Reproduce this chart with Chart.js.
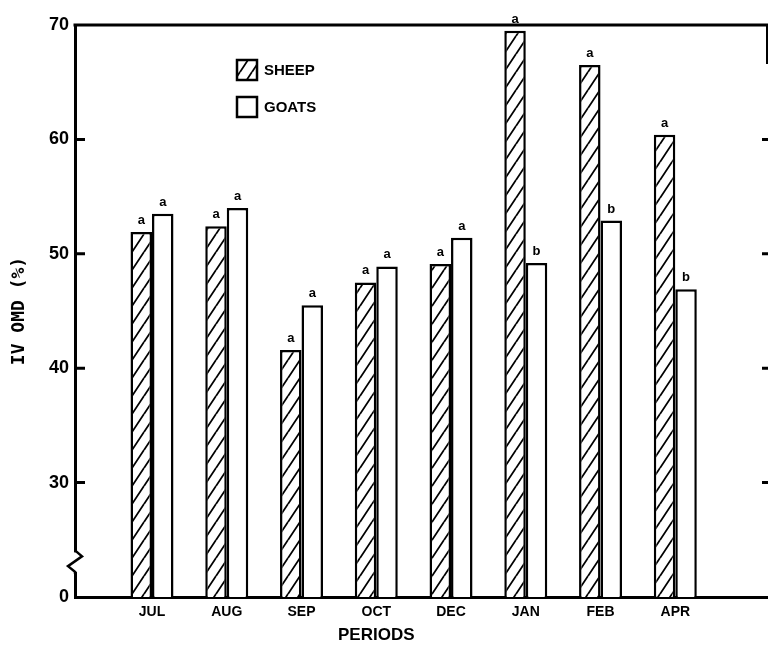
<!DOCTYPE html>
<html><head><meta charset="utf-8">
<script src="https://cdn.jsdelivr.net/npm/chart.js@4.4.1/dist/chart.umd.min.js"></script>
<style>html,body{margin:0;padding:0;background:#fff}#wrap{width:768px;height:648px;position:relative}</style>
</head><body><div id="wrap"><canvas id="c"></canvas></div>
<script>
// ---- data ----
const periods = ['JUL','AUG','SEP','OCT','DEC','JAN','FEB','APR'];
const sheep = [51.9, 52.4, 41.6, 47.5, 49.1, 69.5, 66.5, 60.4];
const goats = [53.5, 54.0, 45.5, 48.9, 51.4, 49.2, 52.9, 46.9];
const sheepLetters = ['a','a','a','a','a','a','a','a'];
const goatsLetters = ['a','a','a','a','a','b','b','b'];
const seriesNames = ['SHEEP','GOATS'];
const yTickValues = [20, 30, 40, 50, 60, 70];
const yTickLabels = ['0', '30', '40', '50', '60', '70'];
const xTitle = 'PERIODS';
const yTitle = 'IV OMD (%)';

// ---- hatch pattern ----
function hatch() {
  const w = 12, h = 18;
  const c = document.createElement('canvas');
  c.width = w; c.height = h;
  const g = c.getContext('2d');
  g.fillStyle = '#fff'; g.fillRect(0, 0, w, h);
  g.strokeStyle = '#000'; g.lineWidth = 1.8;
  for (let k = 0; k <= 2; k++) {
    g.beginPath();
    g.moveTo((k - 1) * w, h);
    g.lineTo(k * w, 0);
    g.moveTo((k - 1) * w, 2 * h);
    g.lineTo(k * w, h);
    g.stroke();
  }
  return document.getElementById('c').getContext('2d').createPattern(c, 'repeat');
}
const hatchFill = hatch();

const toPoints = arr => arr.map((v, i) => ({ x: i + 1, y: v }));

const BOLD = "'Liberation Sans', Arial, sans-serif";

const decor = {
  id: 'decor',
  afterDraw(chart) {
    const ctx = chart.ctx;
    const a = chart.chartArea;
    const ys = chart.scales.y, xs = chart.scales.x;
    ctx.save();
    ctx.strokeStyle = '#000';
    ctx.fillStyle = '#000';
    // top frame line
    ctx.lineWidth = 3;
    ctx.beginPath();
    ctx.moveTo(a.left - 1.5, a.top);
    ctx.lineTo(chart.width, a.top);
    ctx.stroke();
    // right partial frame
    ctx.lineWidth = 2;
    ctx.beginPath();
    ctx.moveTo(chart.width - 1, a.top);
    ctx.lineTo(chart.width - 1, ys.getPixelForValue(66.6));
    ctx.stroke();
    // inner tick marks
    ctx.lineWidth = 3;
    yTickValues.slice(1, -1).forEach(v => {
      const y = ys.getPixelForValue(v);
      ctx.beginPath();
      ctx.moveTo(a.left, y); ctx.lineTo(a.left + 10, y);
      ctx.moveTo(chart.width - 6, y); ctx.lineTo(chart.width, y);
      ctx.stroke();
    });
    // axis break
    const yb1 = ys.getPixelForValue(23.9), yb2 = ys.getPixelForValue(22.2);
    ctx.fillStyle = '#fff';
    ctx.fillRect(a.left - 3, yb1, 6, yb2 - yb1);
    ctx.beginPath();
    ctx.moveTo(a.left, yb1 - 2);
    ctx.lineTo(a.left + 7, yb1 + 4);
    ctx.lineTo(a.left - 7, (yb1 + yb2) / 2 + 4);
    ctx.lineTo(a.left, yb2);
    ctx.lineTo(a.left, yb2 + 2);
    ctx.lineWidth = 2.5;
    ctx.stroke();
    ctx.fillStyle = '#000';
    // significance letters
    ctx.font = 'bold 13px ' + BOLD;
    ctx.textAlign = 'center';
    ctx.textBaseline = 'bottom';
    [sheepLetters, goatsLetters].forEach((letters, di) => {
      const meta = chart.getDatasetMeta(di);
      meta.data.forEach((bar, i) => {
        ctx.fillText(letters[i], bar.x, bar.y - 5);
      });
    });
    // x title
    ctx.font = 'bold 17px ' + BOLD;
    ctx.textBaseline = 'middle';
    ctx.fillText(xTitle, xs.getPixelForValue(4), 635);
    // legend
    const lx = 237, ly = [60, 97], bs = 20;
    ctx.textAlign = 'left';
    ctx.font = 'bold 15px ' + BOLD;
    seriesNames.forEach((name, i) => {
      ctx.fillStyle = i === 0 ? hatchFill : '#fff';
      ctx.fillRect(lx, ly[i], bs, bs);
      ctx.lineWidth = 2.5;
      ctx.strokeStyle = '#000';
      ctx.strokeRect(lx, ly[i], bs, bs);
      ctx.fillStyle = '#000';
      ctx.fillText(name, lx + bs + 7, ly[i] + bs / 2 + 1);
    });
    ctx.restore();
  }
};

new Chart(document.getElementById('c'), {
  type: 'bar',
  data: {
    datasets: [
      { label: seriesNames[0], data: toPoints(sheep), backgroundColor: hatchFill,
        borderColor: '#000', borderWidth: 2.5 },
      { label: seriesNames[1], data: toPoints(goats), backgroundColor: '#fff',
        borderColor: '#000', borderWidth: 2.5 }
    ]
  },
  options: {
    animation: false,
    responsive: true,
    maintainAspectRatio: false,
    devicePixelRatio: 1,
    layout: { padding: { top: 25, right: 0, left: 0, bottom: 0 } },
    datasets: { bar: { categoryPercentage: 0.575, barPercentage: 1.0 } },
    plugins: { legend: { display: false }, tooltip: { enabled: false } },
    scales: {
      x: {
        type: 'linear',
        min: -0.03, max: 9.24,
        offset: false,
        grid: { display: false, drawTicks: false },
        border: { display: true, color: '#000', width: 3 },
        afterBuildTicks: s => { s.ticks = periods.map((p, i) => ({ value: i + 1 })); },
        afterFit: s => { s.height = 51; },
        ticks: {
          autoSkip: false, maxRotation: 0, padding: 7, color: '#000',
          font: { family: BOLD, weight: 'bold', size: 14 },
          callback: v => periods[Math.round(v) - 1]
        }
      },
      y: {
        min: 20, max: 70,
        grid: { display: false, drawTicks: false },
        border: { display: true, color: '#000', width: 3 },
        afterBuildTicks: s => { s.ticks = yTickValues.map(v => ({ value: v })); },
        afterFit: s => { s.width = 75; },
        ticks: {
          padding: 6, color: '#000',
          font: { family: BOLD, weight: 'bold', size: 18 },
          callback: v => yTickLabels[yTickValues.indexOf(v)]
        },
        title: {
          display: true, text: yTitle, color: '#000',
          padding: { top: 9, bottom: 0 },
          font: { family: "'DejaVu Sans Mono', monospace", weight: 'bold', size: 18 }
        }
      }
    }
  },
  plugins: [decor]
});
</script>
</body></html>
